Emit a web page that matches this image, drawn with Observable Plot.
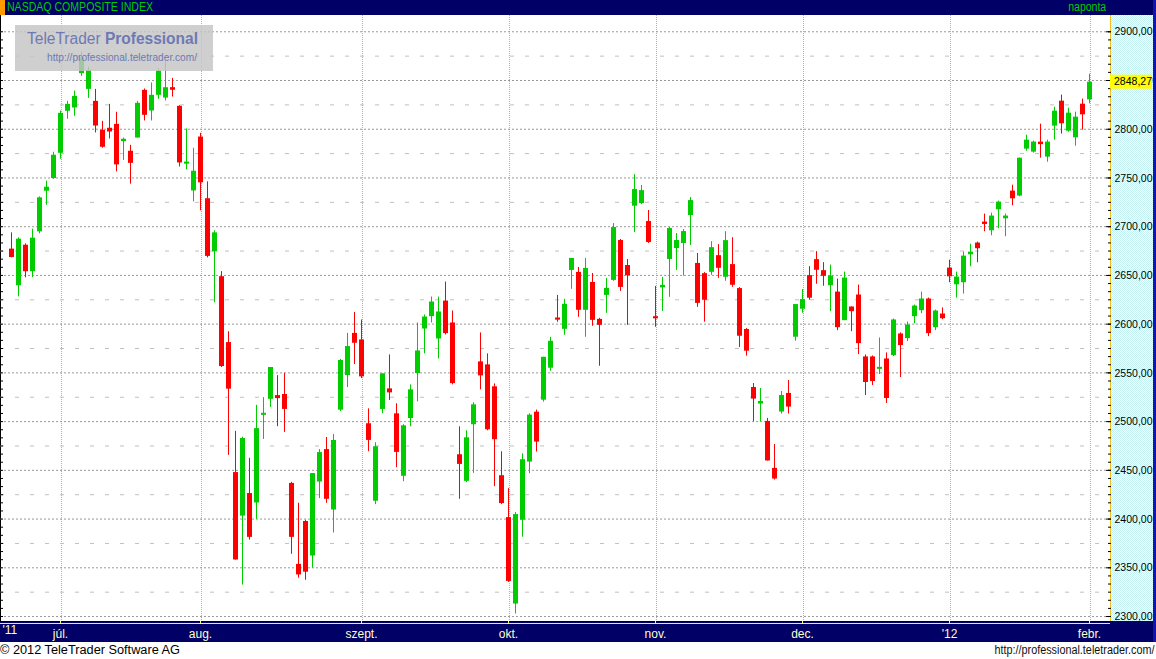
<!DOCTYPE html>
<html><head><meta charset="utf-8">
<script src="https://cdn.jsdelivr.net/npm/d3@7"></script>
<script src="https://cdn.jsdelivr.net/npm/@observablehq/plot@0.6"></script>
<style>
html,body{margin:0;padding:0;background:#fff;}
#wrap{position:relative;width:1156px;height:659px;overflow:hidden;background:#fff;font-family:"Liberation Sans",Arial,sans-serif;}
.abs{position:absolute;}
#topbar{left:0;top:0;width:1156px;height:15px;background:#000066;}
#orange{left:0;top:0;width:5px;height:15px;background:#ff9900;}
#title{left:7px;top:0;height:15px;line-height:15px;color:#00cc00;font-size:12.5px;white-space:nowrap;}
#freq{right:50px;top:0;height:15px;line-height:15px;color:#00cc00;font-size:12.5px;white-space:nowrap;}
#band{left:0;top:621px;width:1156px;height:21px;background:#000066;}
#panel{left:1110px;top:15px;width:43px;height:606px;background-color:#e4fafa;background-image:repeating-conic-gradient(#c4f2f2 0 25%,#ffffff 0 50%);background-size:2px 2px;}
#panelL{left:1110px;top:15px;width:1px;height:606px;background:#f0c020;}
#rborder{left:1153px;top:0;width:3px;height:642px;background:#1414b4;}
#lborder{left:0;top:15px;width:1px;height:606px;background:#000;}
#chart{left:0;top:15px;width:1156px;}
#wm{left:15px;top:25px;width:198px;height:46px;background:rgba(196,196,196,0.82);}
#wm1{left:12px;top:5px;font-size:16px;line-height:18px;color:#6e79b4;white-space:nowrap;}
#wm2{left:32px;top:26px;font-size:10.5px;line-height:12px;color:#6e79b4;white-space:nowrap;}
#copy{left:0;top:642px;height:17px;line-height:17px;font-size:12px;color:#000;white-space:nowrap;}
#url{right:2px;top:642px;height:17px;line-height:17px;font-size:12px;color:#111;white-space:nowrap;}
</style></head>
<body>
<div id="wrap">
  <div id="band" class="abs"></div>
  <div id="panel" class="abs"></div>
  <div id="panelL" class="abs"></div>
  <div id="lborder" class="abs"></div>
  <div id="chart" class="abs"></div>
  <div id="wm" class="abs"><div id="wm1" class="abs">TeleTrader <b>Professional</b></div><div id="wm2" class="abs">http://professional.teletrader.com/</div></div>
  <div id="topbar" class="abs"></div>
  <div id="orange" class="abs"></div>
  <div id="title" class="abs">NASDAQ COMPOSITE INDEX</div>
  <div id="freq" class="abs">naponta</div>
  <div id="rborder" class="abs"></div>
  <div id="copy" class="abs">© 2012 TeleTrader Software AG</div>
  <div id="url" class="abs">http://professional.teletrader.com/</div>
</div>
<script>
// Daily candles, NASDAQ Composite, 22 Jun 2011 – 1 Feb 2012
const open = [
2677, 2639.4, 2681, 2653.8, 2694.7, 2736.4, 2749.4, 2775.3, 2818.4, 2821.8,
2857, 2840.9, 2828.6, 2798.9, 2801, 2805, 2788, 2777.4, 2791, 2839.9,
2818.7, 2834.8, 2832, 2842.6, 2823.5, 2765.4, 2736.7, 2792, 2728.7, 2674.3,
2648.7, 2581.1, 2447.7, 2403, 2426.2, 2416.5, 2507.7, 2522.9, 2526.7, 2527.8,
2436.6, 2353.5, 2397.5, 2362.1, 2438, 2471.3, 2409.3, 2511.8, 2547.2, 2590.5,
2583.8, 2497.8, 2418.3, 2512.5, 2533.6, 2508, 2443.9, 2503.2, 2549.3, 2595,
2607.7, 2584.8, 2623.7, 2601.2, 2466, 2438.7, 2496.8, 2561.3, 2558.2, 2535.7,
2444.5, 2401.5, 2312.8, 2398.8, 2458.5, 2509.7, 2522, 2554.8, 2606, 2594.7,
2655.1, 2653.1, 2614.2, 2642.8, 2604.9, 2629.5, 2644.9, 2685.8, 2660.2, 2721,
2723.7, 2705.3, 2607.3, 2637.7, 2666.4, 2677.6, 2682.8, 2711.4, 2662.3, 2651.8,
2653.2, 2670.3, 2648.1, 2661.1, 2636.5, 2594.5, 2535, 2518, 2500.2, 2452,
2509.8, 2528.9, 2586.6, 2615.3, 2649.8, 2666.2, 2654.9, 2639.4, 2632.9, 2603.6,
2617.6, 2629.9, 2566.4, 2566.4, 2554.8, 2564.3, 2567.7, 2589.9, 2585.2, 2607.7,
2613.8, 2625.8, 2596.4, 2610.4, 2657.5, 2640.4, 2642.5, 2671.2, 2683.2, 2704.7,
2695.8, 2717.4, 2708.1, 2736.5, 2731.4, 2779.6, 2776.5, 2786.8, 2771.4, 2803.2,
2828.8, 2798, 2791.2, 2825.7, 2830.2
];
const high = [
2693.7, 2688.6, 2682.4, 2697.5, 2730.6, 2746.7, 2776.4, 2818.7, 2828.6, 2839.2,
2879.2, 2863.8, 2840.9, 2808.1, 2825.5, 2817.4, 2791, 2783.5, 2828.6, 2841.3,
2847.4, 2862.1, 2868.9, 2852.2, 2824.2, 2800.3, 2780.5, 2795.8, 2746, 2695.8,
2653.9, 2592.2, 2490, 2484, 2462.3, 2516.7, 2524.6, 2555.5, 2547.2, 2549.6,
2437.7, 2416.2, 2398.8, 2446.7, 2471.3, 2483.7, 2486.9, 2563.8, 2590.5, 2612,
2604.3, 2513.1, 2478.3, 2549, 2568.4, 2518.3, 2496.8, 2537.7, 2601.2, 2609.4,
2627.8, 2627.8, 2643.2, 2613.5, 2494.7, 2490.6, 2519.3, 2591, 2569.5, 2538.7,
2469.1, 2431.2, 2406.7, 2467, 2508, 2511.8, 2566, 2586.5, 2629.5, 2625.4,
2667.4, 2658.2, 2667.4, 2652, 2606, 2646.9, 2703.2, 2686.9, 2666.4, 2753.4,
2742.2, 2716.6, 2638.7, 2648, 2699.1, 2693, 2697.1, 2729.9, 2672.5, 2652.9,
2684.6, 2681.6, 2694.9, 2688.7, 2637.5, 2595.5, 2539.1, 2534, 2503.3, 2476.6,
2530.9, 2542.2, 2620.1, 2635.5, 2659, 2674.4, 2663.1, 2660.6, 2646.2, 2653.4,
2617.6, 2640.1, 2568.4, 2567.4, 2585.8, 2570.5, 2605.3, 2591, 2602.2, 2619.6,
2632.9, 2626.8, 2614.5, 2616.6, 2665.7, 2653.4, 2673.9, 2682.1, 2684.2, 2712.9,
2713.9, 2726.2, 2712.9, 2742.6, 2770.3, 2793.9, 2787.8, 2805.2, 2788.8, 2822.6,
2835, 2821.6, 2817.5, 2830.9, 2856.5
];
const low = [
2668, 2628, 2647.6, 2647.6, 2692.7, 2722, 2748.7, 2769.2, 2810.2, 2813.3,
2854.2, 2831.7, 2796.2, 2780.5, 2790, 2756.2, 2768, 2743.6, 2791, 2808.5,
2808.5, 2830.7, 2829, 2833, 2761.3, 2758.3, 2725.5, 2716.3, 2668, 2622,
2555.5, 2465.4, 2358, 2332.3, 2378.4, 2399.5, 2481.7, 2514.6, 2494.8, 2489,
2363.9, 2339.3, 2337.2, 2349.6, 2421, 2416.2, 2385.7, 2510.4, 2535, 2558.6,
2544.2, 2469.1, 2414.8, 2508, 2521.7, 2452.7, 2438.4, 2494.7, 2520.3, 2569.5,
2601.2, 2564.3, 2588.9, 2537.7, 2420.3, 2437.4, 2446.9, 2532.6, 2490.6, 2433.3,
2414.8, 2335, 2302.6, 2381.4, 2446.6, 2468.8, 2520, 2551.7, 2601.9, 2588.6,
2635.7, 2607, 2586.5, 2597.8, 2556.8, 2611.1, 2643.9, 2633.6, 2598.8, 2694,
2722.7, 2682.8, 2596.8, 2613.1, 2627.5, 2655.1, 2649.3, 2680.7, 2617.2, 2602,
2650.1, 2647, 2644, 2637.8, 2576, 2567.1, 2499.9, 2499.9, 2459.6, 2440,
2507.7, 2507.7, 2582.5, 2611.2, 2624.5, 2640.9, 2638.9, 2612.8, 2593.3, 2603.6,
2592.3, 2568.8, 2526.8, 2537, 2548.3, 2518.6, 2566.7, 2545.2, 2582.1, 2600.5,
2610.8, 2587.2, 2593.3, 2604.6, 2642.5, 2626.8, 2630.9, 2658.9, 2663, 2694.8,
2690.7, 2697.9, 2689.7, 2721.5, 2730.7, 2777.5, 2775.5, 2770.3, 2766.2, 2788.8,
2795, 2797, 2782.6, 2799.1, 2826.1
];
const close = [
2668.4, 2687.2, 2653.8, 2688.3, 2729.6, 2740.5, 2773.3, 2816.3, 2825.5, 2833.7,
2873, 2860.4, 2803.3, 2781.5, 2797.2, 2763.4, 2789.7, 2765, 2826.6, 2814.3,
2834.8, 2859.7, 2842.6, 2840.6, 2765.4, 2766, 2756.9, 2745, 2669.5, 2693.7,
2556.5, 2533.3, 2358, 2482.7, 2381.2, 2492.8, 2508.3, 2555.5, 2523.6, 2512.5,
2381.2, 2342.7, 2345.5, 2446.7, 2468.2, 2420.3, 2480.6, 2562.7, 2577, 2580.4,
2545.9, 2480.7, 2474.2, 2549, 2529.5, 2468.4, 2495.7, 2532.6, 2572.5, 2607.3,
2622.7, 2612.5, 2590.3, 2539, 2456.1, 2483.4, 2517.2, 2546.9, 2491.6, 2481.4,
2415.9, 2336, 2404.6, 2460.9, 2506.7, 2479, 2566, 2582.4, 2605.3, 2620.3,
2667.4, 2614.2, 2657.2, 2603.9, 2598.8, 2636.7, 2699.1, 2637.7, 2649.7, 2738.1,
2737, 2683.8, 2606.7, 2639.8, 2698.1, 2685.8, 2695, 2726.8, 2621.3, 2624.5,
2678.5, 2657.3, 2685.7, 2639.9, 2587.6, 2572.3, 2523.1, 2520.7, 2459.6, 2441.1,
2526.8, 2514.9, 2620.1, 2625.2, 2626.6, 2655.3, 2649.1, 2649.3, 2596.4, 2647.3,
2612.8, 2580, 2540.1, 2541.1, 2555.5, 2523.7, 2604.3, 2578, 2599.1, 2618.6,
2625.8, 2590.3, 2613.5, 2605.6, 2648.6, 2648.3, 2669.8, 2673.9, 2677.4, 2703,
2710.9, 2725.2, 2710.9, 2728.6, 2770.3, 2788.8, 2786.8, 2784.7, 2786.8, 2818.5,
2805.6, 2816.5, 2812.4, 2814.8, 2848.27
];
// month starts (candle index) and their labels
const monthStarts = [7, 27, 50, 71, 92, 113, 134, 154];
const monthLabels = ["júl.", "aug.", "szept.", "okt.", "nov.", "dec.", "'12", "febr."];
const yearLabel = "'11";
// price axis ticks
const priceTicks = [2300, 2350, 2400, 2450, 2500, 2550, 2600, 2650, 2700, 2750, 2800, 2850, 2900];
const halfTicks = [2325, 2375, 2425, 2475, 2525, 2575, 2625, 2675, 2725, 2775, 2825, 2875];

const N = close.length;
const data = d3.range(N).map(i => ({i, o: open[i], h: high[i], l: low[i], c: close[i]}));
const UP = "#00cc00", DN = "#ff0000";
const col = d => d.c >= d.o ? UP : DN;
const fmt = v => v.toFixed(2).replace(".", ",");
const minorTicks = d3.range(0, 73).map(k => 2300 + k * 50 / 6).filter(v => v < 2912);
const yBot = 2294.9, yTop = 2916.7;

const chart = Plot.plot({
  width: 1156, height: 627,
  marginTop: 0, marginBottom: 21, marginLeft: 0, marginRight: 46,
  style: {background: "transparent", overflow: "visible", fontFamily: '"Liberation Sans",Arial,sans-serif', fontSize: "12px"},
  x: {domain: [-11 / 7, 1099 / 7], axis: null, label: null},
  y: {domain: [yBot, yTop], axis: null, label: null},
  marks: [
    Plot.ruleX(monthStarts, {x: d => d, dx: 1, stroke: "#b0b0b0", strokeDasharray: "1,1"}),
    Plot.ruleY(halfTicks, {y: d => d, stroke: "#c0c0c0", strokeDasharray: "4,11"}),
    Plot.ruleY(priceTicks, {y: d => d, stroke: "#999999", strokeDasharray: "2,2"}),
    Plot.ruleX(data, {x: "i", y1: "l", y2: "h", stroke: col, strokeWidth: 1}),
    Plot.ruleX(data, {x: "i", y1: "o", y2: "c", stroke: col, strokeWidth: 5}),
    Plot.ruleY(data.filter(d => Math.abs(d.o - d.c) < 2.2), {y: d => (d.o + d.c) / 2, x1: d => d.i - 2 / 7, x2: d => d.i + 3 / 7, stroke: col, strokeWidth: 2}),
    Plot.ruleY([yBot], {y: d => d, stroke: "#000"}),
    Plot.ruleY([yBot], {y: d => d, stroke: "#ffff00", dy: 2}),
    Plot.axisY(minorTicks, {anchor: "right", tickSize: -3, tickFormat: () => "", stroke: "#000", label: null}),
    Plot.axisY(priceTicks, {anchor: "right", tickSize: -5, tickFormat: () => "", stroke: "#000", label: null}),
    Plot.axisY(minorTicks, {anchor: "left", tickSize: -3, tickFormat: () => "", stroke: "#000", label: null}),
    Plot.text(priceTicks, {y: d => d, text: fmt, frameAnchor: "right", dx: 4, textAnchor: "start", fontSize: 11.5, fill: "#000"}),
    Plot.axisX(monthStarts, {anchor: "bottom", tickSize: 3, tickPadding: 5, stroke: "#ffff66", fill: "#ffffcc", fontSize: 12, label: null, tickFormat: d => monthLabels[monthStarts.indexOf(d)]}),
    Plot.text([yearLabel], {text: d => d, frameAnchor: "bottom-left", dx: 2, dy: 12.7, textAnchor: "start", fill: "#ffffcc", fontSize: 12})
  ]
});
document.getElementById("chart").appendChild(chart);

// last-price marker on the price axis, positioned with Plot's own scales
const sy = chart.scale("y"), sx = chart.scale("x");
const last = close[N - 1];
const yy = sy.apply(last), xx = sx.apply(sx.domain[1]);
const svg = d3.select(chart);
svg.append("rect").attr("x", xx).attr("y", yy - 7).attr("width", 42).attr("height", 14).attr("fill", "#ffff00");
svg.append("text").attr("x", xx + 4).attr("y", yy).attr("dy", "0.32em").attr("text-anchor", "start")
  .attr("font-size", 11.5).attr("fill", "#000").text(fmt(last));

// condensed look of the price labels (the original uses a narrow bitmap font)
svg.selectAll("text").filter(function() { return /^\d{4},\d\d$/.test(this.textContent); })
  .attr("textLength", 38).attr("lengthAdjust", "spacingAndGlyphs");

// squeeze HTML texts to the widths they have in the original
function fit(id, target, fromRight) {
  const el = document.getElementById(id);
  const w = el.getBoundingClientRect().width;
  el.style.transformOrigin = fromRight ? "right center" : "left center";
  el.style.transform = `scaleX(${target / w})`;
}
fit("title", 146, false);
fit("freq", 38, true);
fit("wm1", 171, false);
fit("wm2", 150, false);
fit("copy", 180, false);
fit("url", 160, true);
</script>
</body></html>
